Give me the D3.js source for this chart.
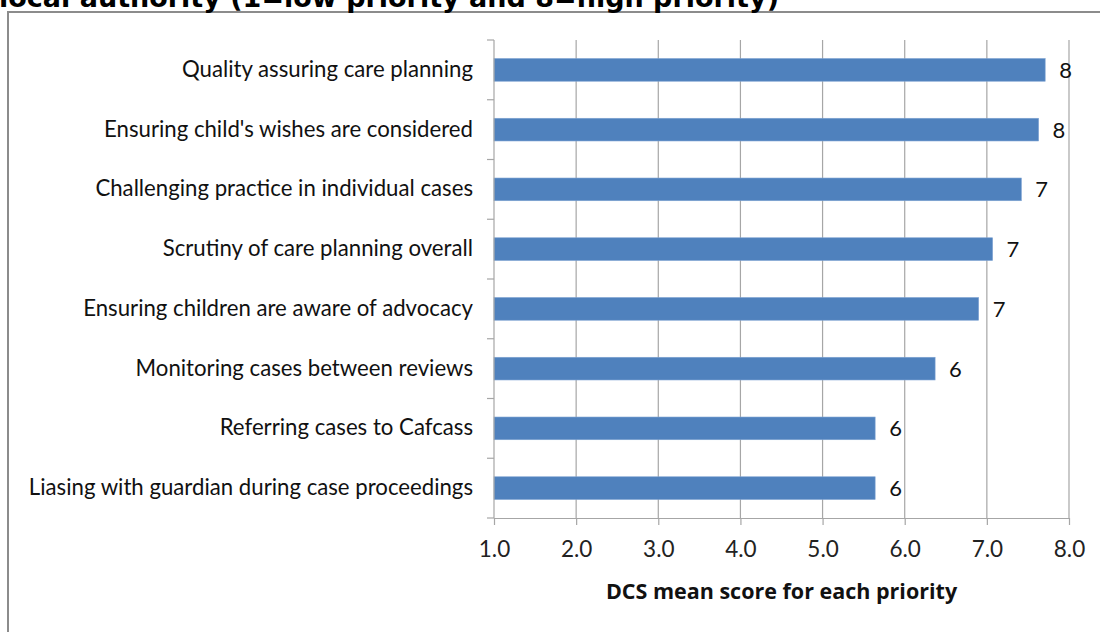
<!DOCTYPE html>
<html>
<head>
<meta charset="utf-8">
<script src="https://cdn.jsdelivr.net/npm/d3@7"></script>
<style>
  body { margin: 0; background: #fff; }
  svg { display: block; }
</style>
</head>
<body>
<svg id="chart" width="1100" height="632"></svg>
<script>
// data
var categories = [
  "Quality assuring care planning",
  "Ensuring child's wishes are considered",
  "Challenging practice in individual cases",
  "Scrutiny of care planning overall",
  "Ensuring children are aware of advocacy",
  "Monitoring cases between reviews",
  "Referring cases to Cafcass",
  "Liasing with guardian during case proceedings"
];
var scores = [7.71, 7.63, 7.42, 7.07, 6.90, 6.37, 5.64, 5.64];
var scoreLabels = ["8", "8", "7", "7", "7", "6", "6", "6"];
var xTicks = [1, 2, 3, 4, 5, 6, 7, 8];
var titleText = "local authority (1=low priority and 8=high priority)";
var xTitle = "DCS mean score for each priority";

var rows = categories.map(function(c, i) {
  return { name: c, value: scores[i], label: scoreLabels[i] };
});

var svg = d3.select("#chart");
var plotLeft = 494, plotRight = 1069, plotTop = 40, plotBottom = 518;
var labelFont = "Lato, 'Open Sans', sans-serif";
var gridColor = "#a6a6a6";

// frame and the cut-off title
svg.append("rect")
  .attr("x", 8).attr("y", 12)
  .attr("width", 1100).attr("height", 640)
  .attr("fill", "none")
  .attr("stroke", "#8c8c8c")
  .attr("stroke-width", 2);

svg.append("text")
  .attr("x", -1).attr("y", 7)
  .attr("font-family", "'DejaVu Sans', Verdana, sans-serif")
  .attr("font-weight", "bold")
  .attr("font-size", 27)
  .attr("fill", "#000")
  .text(titleText);

var x = d3.scaleLinear().domain([1, 8]).range([plotLeft, plotRight]);
var y = d3.scaleBand().domain(categories).range([plotTop, plotBottom])
  .paddingInner(0.62).paddingOuter(0.31);
var yEdge = d3.scaleLinear().domain([0, categories.length]).range([plotTop, plotBottom]);

// vertical gridlines
svg.append("g").selectAll("line")
  .data(xTicks.slice(1))
  .enter().append("line")
  .attr("x1", function(d) { return x(d); })
  .attr("x2", function(d) { return x(d); })
  .attr("y1", plotTop).attr("y2", plotBottom)
  .attr("stroke", gridColor)
  .attr("stroke-width", 1.2);

// bars
svg.append("g").selectAll("rect")
  .data(rows)
  .enter().append("rect")
  .attr("x", x(1))
  .attr("y", function(d) { return y(d.name); })
  .attr("width", function(d) { return x(d.value) - x(1); })
  .attr("height", y.bandwidth())
  .attr("fill", "#4f81bd")
  .attr("stroke", "#7ea3d2")
  .attr("stroke-width", 0.6);

// value labels
svg.append("g").selectAll("text")
  .data(rows)
  .enter().append("text")
  .attr("x", function(d) { return x(d.value) + 14; })
  .attr("y", function(d) { return y(d.name) + y.bandwidth() / 2; })
  .attr("dy", "0.36em")
  .attr("font-family", labelFont)
  .attr("font-size", 22)
  .attr("fill", "#111")
  .text(function(d) { return d.label; });

// x axis
var xAxis = svg.append("g")
  .attr("transform", "translate(0," + plotBottom + ")")
  .call(d3.axisBottom(x).tickValues(xTicks).tickFormat(d3.format(".1f"))
    .tickSizeInner(7).tickSizeOuter(0).tickPadding(16));
xAxis.select(".domain").attr("stroke", gridColor).attr("stroke-width", 1.2);
xAxis.selectAll(".tick line").attr("stroke", gridColor).attr("stroke-width", 1.2);
xAxis.selectAll(".tick text")
  .attr("font-family", labelFont)
  .attr("font-size", 22.5)
  .attr("fill", "#222");

// y axis: line plus ticks on category boundaries
svg.append("line")
  .attr("x1", plotLeft).attr("x2", plotLeft)
  .attr("y1", plotTop).attr("y2", plotBottom)
  .attr("stroke", gridColor).attr("stroke-width", 1.2);
svg.append("g").selectAll("line")
  .data(d3.range(categories.length + 1))
  .enter().append("line")
  .attr("x1", plotLeft - 7).attr("x2", plotLeft)
  .attr("y1", function(d) { return yEdge(d); })
  .attr("y2", function(d) { return yEdge(d); })
  .attr("stroke", gridColor).attr("stroke-width", 1.2);

var yAxis = svg.append("g")
  .attr("transform", "translate(" + plotLeft + ",0)")
  .call(d3.axisLeft(y).tickSize(0).tickPadding(21));
yAxis.select(".domain").remove();
yAxis.selectAll(".tick text")
  .attr("font-family", labelFont)
  .attr("font-size", 22.2)
  .attr("fill", "#111");

// x axis title
svg.append("text")
  .attr("x", (plotLeft + plotRight) / 2)
  .attr("y", 599)
  .attr("text-anchor", "middle")
  .attr("font-family", "'Open Sans', sans-serif")
  .attr("font-weight", "bold")
  .attr("font-size", 21.5)
  .attr("fill", "#111")
  .text(xTitle);
</script>
</body>
</html>
